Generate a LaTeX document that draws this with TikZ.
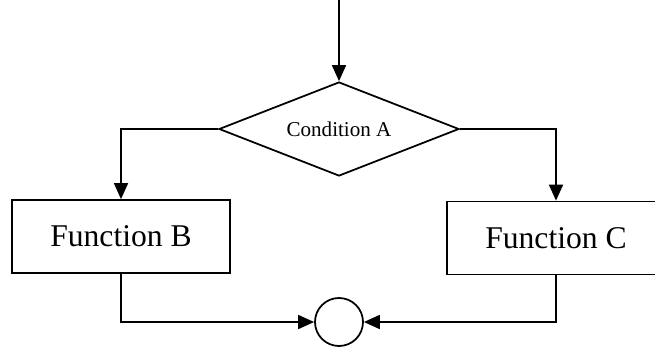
\documentclass[tikz,border=0pt]{standalone}
\usepackage{fontspec}
\setmainfont{Liberation Serif}
\usetikzlibrary{shapes.geometric,arrows.meta}

\begin{document}
\begin{tikzpicture}[
    line width=1pt,
    flow/.style={-{Triangle[length=0.32cm,width=0.28cm]}},
    decision/.style={draw, diamond, shape aspect=2.55, inner sep=0pt, minimum width=4.8cm, minimum height=1.88cm, font=\fontsize{12}{14}\selectfont},
    funcbox/.style={draw, rectangle, inner sep=0pt, minimum width=4.36cm, minimum height=1.46cm, font=\fontsize{18}{21}\selectfont},
    joint/.style={draw, circle, inner sep=0pt, minimum size=0.96cm}
  ]
  \useasboundingbox (0,0) rectangle (13.1,6.92);
  \coordinate (start) at (6.78, 6.92);
  \node[decision] (cond) at (6.78, 4.34) {Condition A};
  \node[funcbox] (funcB) at (2.42, 2.19) {Function B};
  \node[funcbox] (funcC) at (11.12, 2.16) {Function C};
  \node[joint] (join) at (6.78, 0.48) {};
  \draw[flow] (start) -- (cond.north);
  \draw[flow] (cond.west) -| (funcB.north);
  \draw[flow] (cond.east) -| (funcC.north);
  \draw[flow] (funcB.south) |- (join.west);
  \draw[flow] (funcC.south) |- (join.east);
\end{tikzpicture}
\end{document}
